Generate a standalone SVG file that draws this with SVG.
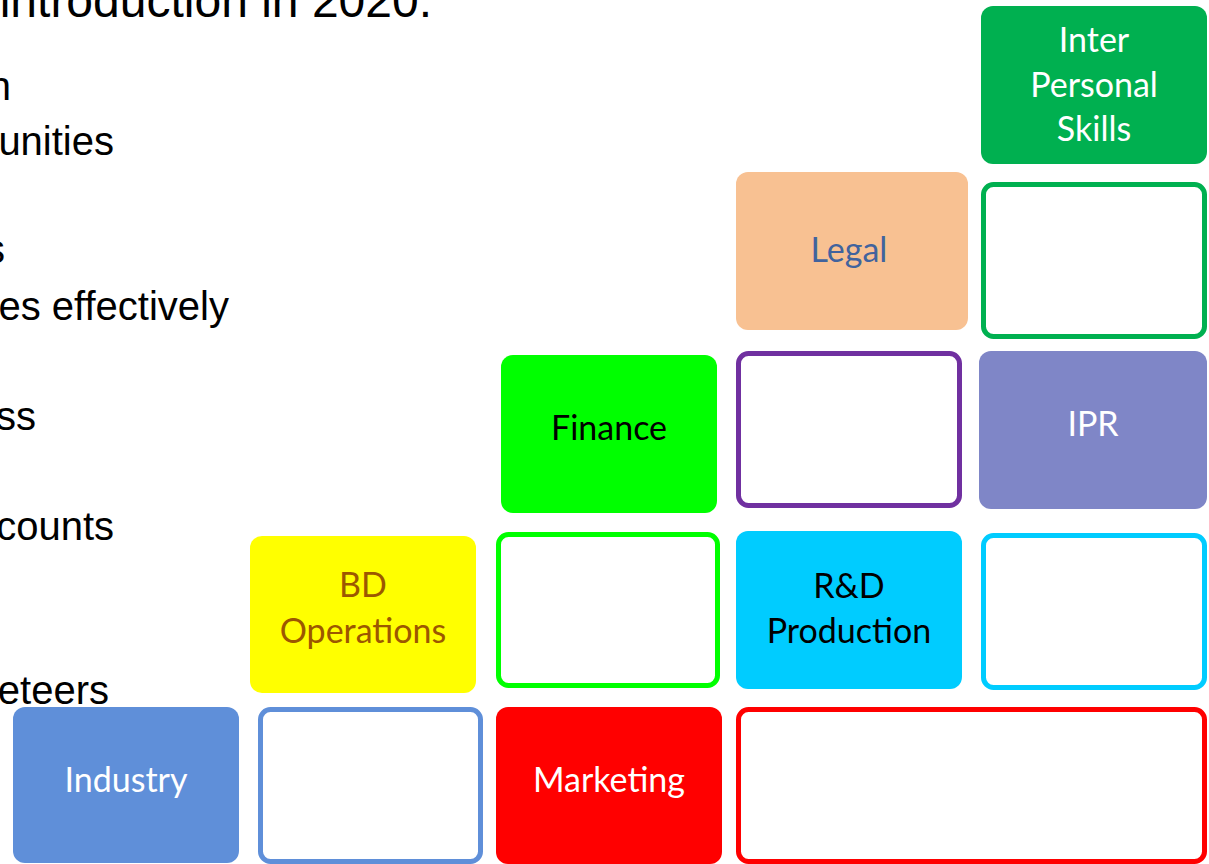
<svg xmlns="http://www.w3.org/2000/svg" width="1209" height="864" viewBox="0 0 1209 864">
<style>
.bg{font-family:"Liberation Sans",Arial,sans-serif;font-size:40px;fill:#000;text-anchor:end}
.lbl{font-family:Lato,"Noto Sans",sans-serif;font-size:34px;text-anchor:middle}
.out{fill:#fff;stroke-width:5}
</style>
<rect width="1209" height="864" fill="#fff"/>
<g id="background-text">
<text class="bg" x="432" y="17" style="font-size:48px">introduction in 2020.</text>
<text class="bg" x="11" y="100">n</text>
<text class="bg" x="114" y="155">unities</text>
<text class="bg" x="5" y="263">s</text>
<text class="bg" x="229" y="320">es effectively</text>
<text class="bg" x="36" y="430">ss</text>
<text class="bg" x="114" y="540">counts</text>
<text class="bg" x="109" y="704">eteers</text>
</g>
<g id="connectors"></g>
<g id="inter-personal-skills">
<rect x="981" y="6" width="226" height="158" rx="12" fill="#00B050"/>
<text class="lbl" fill="#fff" x="1094" y="52">Inter</text>
<text class="lbl" fill="#fff" x="1094" y="97">Personal</text>
<text class="lbl" fill="#fff" x="1094" y="141">Skills</text>
</g>
<g id="legal">
<rect x="736" y="172" width="232" height="158" rx="12" fill="#F8C192"/>
<text class="lbl" fill="#41639D" x="849" y="262">Legal</text>
</g>
<g id="empty-green">
<rect class="out" x="983.5" y="184.5" width="221" height="152" rx="10" stroke="#00B050"/>
</g>
<g id="finance">
<rect x="501" y="355" width="216" height="158" rx="12" fill="#00FF00"/>
<text class="lbl" fill="#000" x="609" y="440">Finance</text>
</g>
<g id="empty-purple">
<rect class="out" x="738.5" y="353.5" width="221" height="152" rx="10" stroke="#7030A0"/>
</g>
<g id="ipr">
<rect x="979" y="351" width="228" height="158" rx="12" fill="#7F86C7"/>
<text class="lbl" fill="#fff" x="1093" y="436">IPR</text>
</g>
<g id="bd-operations">
<rect x="250" y="536" width="226" height="157" rx="12" fill="#FFFF00"/>
<text class="lbl" fill="#9C5700" x="363" y="597">BD</text>
<text class="lbl" fill="#9C5700" x="363" y="643">Operations</text>
</g>
<g id="empty-lime">
<rect class="out" x="498.5" y="534.5" width="219" height="151" rx="10" stroke="#00FF00"/>
</g>
<g id="rd-production">
<rect x="736" y="531" width="226" height="158" rx="12" fill="#00CCFF"/>
<text class="lbl" fill="#000" x="849" y="598">R&amp;D</text>
<text class="lbl" fill="#000" x="849" y="643">Production</text>
</g>
<g id="empty-cyan">
<rect class="out" x="983.5" y="535.5" width="221" height="152" rx="10" stroke="#00CCFF"/>
</g>
<g id="industry">
<rect x="13" y="707" width="226" height="156" rx="12" fill="#5F8FD9"/>
<text class="lbl" fill="#fff" x="126" y="792">Industry</text>
</g>
<g id="empty-blue">
<rect class="out" x="260.5" y="709.5" width="220" height="152" rx="10" stroke="#5F8FD9"/>
</g>
<g id="marketing">
<rect x="496" y="707" width="226" height="157" rx="12" fill="#FF0000"/>
<text class="lbl" fill="#fff" x="609" y="792">Marketing</text>
</g>
<g id="empty-red">
<rect class="out" x="738.5" y="709.5" width="466" height="152" rx="10" stroke="#FF0000"/>
</g>
</svg>
